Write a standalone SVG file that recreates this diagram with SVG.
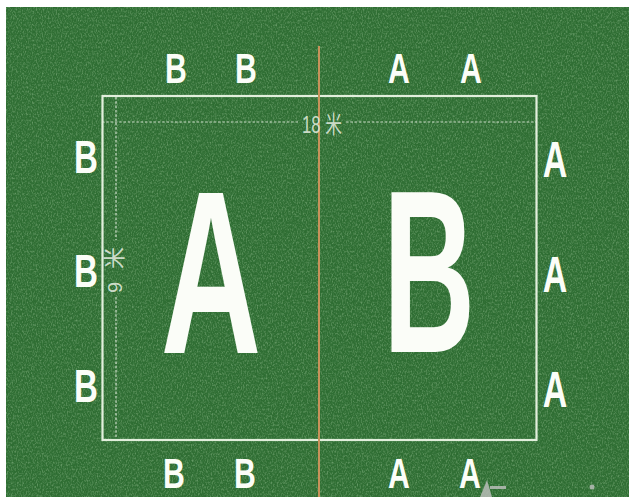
<svg xmlns="http://www.w3.org/2000/svg" width="629" height="497" viewBox="0 0 629 497">
<style>
.l{font-family:"Liberation Sans",Arial,sans-serif;font-weight:bold;fill:#fbfdf8;text-anchor:middle}
.dim{font-family:"Liberation Sans","Noto Sans CJK SC",sans-serif;fill:#dfe8da;fill-opacity:0.9}
.dash{stroke:#e6efe2;stroke-width:1.2;stroke-dasharray:2.5 1.8;fill:none;stroke-opacity:0.85}
</style>
<defs>
<filter id="grass" x="0" y="0" width="100%" height="100%">
<feTurbulence type="fractalNoise" baseFrequency="0.8 0.45" numOctaves="2" seed="7" result="n"/>
<feColorMatrix in="n" type="matrix" values="0 0 0 0 0.55  0 0 0 0 0.78  0 0 0 0 0.5  1.4 0 0 0 -0.62"/>
</filter>
<filter id="grass2" x="0" y="0" width="100%" height="100%">
<feTurbulence type="fractalNoise" baseFrequency="0.6 0.3" numOctaves="2" seed="2" result="n"/>
<feColorMatrix in="n" type="matrix" values="0 0 0 0 0.05  0 0 0 0 0.2  0 0 0 0 0.06  1.4 0 0 0 -0.5"/>
</filter>
</defs>
<rect width="629" height="497" fill="#ffffff"/>
<g id="field">
<rect x="6" y="7" width="623" height="490" fill="#2e6d32"/>
<rect x="6" y="7" width="623" height="490" filter="url(#grass2)" opacity="0.7"/>
<rect x="6" y="7" width="623" height="490" filter="url(#grass)" opacity="0.6"/>
</g>
<g id="lines">
<rect x="102.5" y="96" width="434" height="344" fill="none" stroke="#e2efdc" stroke-width="2.2"/>
<line x1="319" y1="46" x2="319" y2="497" stroke="#c8925a" stroke-width="2"/>
<path class="dash" d="M102 122H299M346 122H536"/>
<path class="dash" d="M116 97V240M116 297V439"/>
</g>
<g id="dimensions">
<text class="dim" font-size="24" transform="translate(302,133) scale(0.7,1)">18 米</text>
<text class="dim" font-size="20" transform="translate(122,293) rotate(-90)">9<tspan dx="13" font-size="22">米</tspan></text>
</g>
<g id="big-letters">
<text id="bigA" class="l" font-size="232" transform="translate(211,353) scale(0.6,1)">A</text>
<text id="bigB" class="l" font-size="232" transform="translate(429,352) scale(0.55,1)">B</text>
</g>
<g id="top-row">
<text class="l" font-size="42" transform="translate(176,83) scale(0.72,1)">B</text>
<text class="l" font-size="42" transform="translate(246,83) scale(0.72,1)">B</text>
<text class="l" font-size="42" transform="translate(399,83) scale(0.72,1)">A</text>
<text class="l" font-size="42" transform="translate(471,83) scale(0.72,1)">A</text>
</g>
<g id="left-col">
<text class="l" font-size="46" transform="translate(86,173) scale(0.72,1)">B</text>
<text class="l" font-size="46" transform="translate(86,287) scale(0.72,1)">B</text>
<text class="l" font-size="46" transform="translate(86,402) scale(0.72,1)">B</text>
</g>
<g id="right-col">
<text class="l" font-size="50" transform="translate(555,177) scale(0.68,1)">A</text>
<text class="l" font-size="50" transform="translate(555,292) scale(0.68,1)">A</text>
<text class="l" font-size="50" transform="translate(555,407) scale(0.68,1)">A</text>
</g>
<g id="bottom-row">
<text class="l" font-size="42" transform="translate(174,488) scale(0.72,1)">B</text>
<text class="l" font-size="42" transform="translate(245,488) scale(0.72,1)">B</text>
<text class="l" font-size="42" transform="translate(399,488) scale(0.72,1)">A</text>
<text class="l" font-size="42" transform="translate(470,488) scale(0.72,1)">A</text>
</g>
<g id="watermark" fill="#b9bdb8" opacity="0.85">
<path d="M480 497L487 480L492 497Z"/>
<rect x="490" y="486" width="16" height="3"/>
<circle cx="592" cy="487" r="2.5"/>
</g>
</svg>
